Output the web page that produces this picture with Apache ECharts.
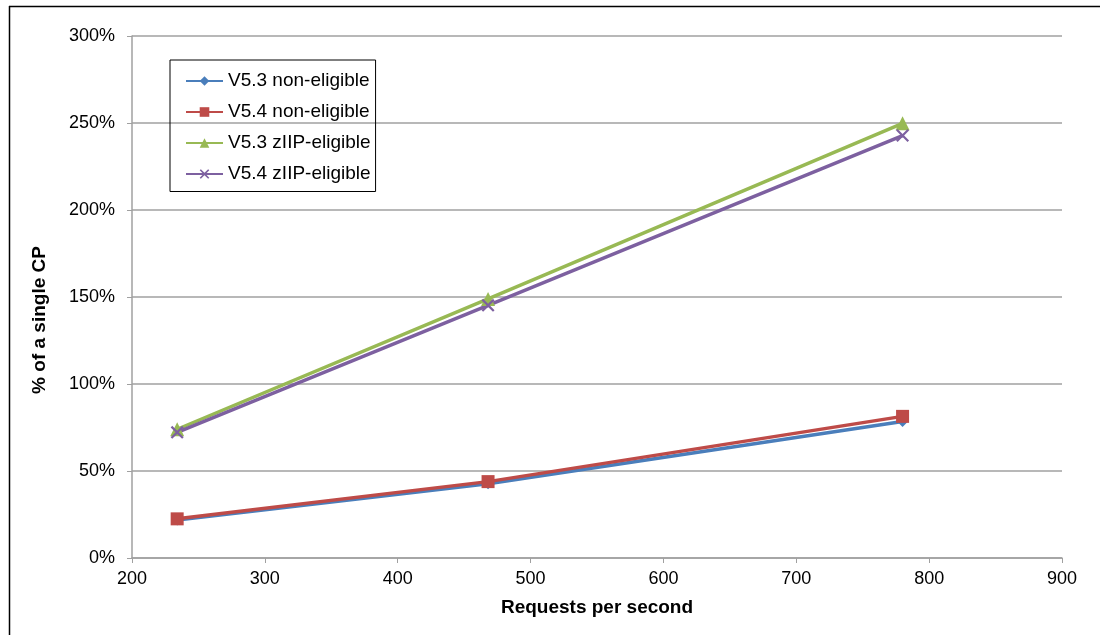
<!DOCTYPE html>
<html>
<head>
<meta charset="utf-8">
<script src="https://cdn.jsdelivr.net/npm/echarts@6/dist/echarts.min.js"></script>
<style>
html,body{margin:0;padding:0;background:#fff;}
#chart{width:1100px;height:635px;}
</style>
</head>
<body>
<div id="chart"></div>
<script>
var requests = [234, 468, 780];
var v53Non = [21.9, 42.7, 78.5];
var v54Non = [22.5, 43.9, 81.4];
var v53Ziip = [74.0, 148.9, 249.8];
var v54Ziip = [72.2, 145.2, 242.8];
var seriesNames = ['V5.3 non-eligible', 'V5.4 non-eligible', 'V5.3 zIIP-eligible', 'V5.4 zIIP-eligible'];
var xTitle = 'Requests per second';
var yTitle = '% of a single CP';

function pairs(vals){ return requests.map(function(x,i){ return [x, vals[i]]; }); }

var xShape = 'path://M0,1.2L1.2,0L5,3.8L8.8,0L10,1.2L6.2,5L10,8.8L8.8,10L5,6.2L1.2,10L0,8.8L3.8,5Z';
var font = 'Liberation Sans, Arial, sans-serif';

function mk(name, vals, color, symbol, size){
  return {
    name: name, type: 'line', data: pairs(vals),
    symbol: symbol, symbolSize: size,
    lineStyle: {color: color, width: 3.5},
    itemStyle: {color: color},
    emphasis: {disabled: true}
  };
}

var chart = echarts.init(document.getElementById('chart'), null, {renderer: 'canvas'});
chart.setOption({
  animation: false,
  backgroundColor: '#ffffff',
  grid: {left: 132, top: 36, right: 38, bottom: 77},
  graphic: [
    {type: 'line', shape: {x1: 9, y1: 6.5, x2: 1100, y2: 6.5}, style: {stroke: '#000', lineWidth: 1.5}},
    {type: 'line', shape: {x1: 9.5, y1: 6, x2: 9.5, y2: 635}, style: {stroke: '#000', lineWidth: 1.5}},
    {type: 'text', x: 40, y: 320, rotation: Math.PI / 2,
     style: {text: yTitle, fontFamily: font, fontSize: 19, fontWeight: 'bold', fill: '#000',
             textAlign: 'center', textVerticalAlign: 'middle'}}
  ],
  legend: {
    orient: 'vertical', left: 170, top: 60,
    data: seriesNames,
    borderColor: '#000', borderWidth: 1,
    padding: [11.5, 5, 8, 15],
    itemWidth: 37, itemHeight: 12, itemGap: 12,
    textStyle: {fontFamily: font, fontSize: 19, color: '#000'}
  },
  xAxis: {
    type: 'value', min: 200, max: 900, interval: 100,
    name: xTitle, nameLocation: 'middle', nameGap: 40,
    nameTextStyle: {fontFamily: font, fontSize: 19, fontWeight: 'bold', color: '#000'},
    axisLine: {show: true, lineStyle: {color: '#a0a0a0', width: 1.5}},
    axisTick: {show: true, length: 5, lineStyle: {color: '#a0a0a0'}},
    axisLabel: {fontFamily: font, fontSize: 18, color: '#000', margin: 12},
    splitLine: {show: false}
  },
  yAxis: {
    type: 'value', min: 0, max: 300, interval: 50,
    axisLine: {show: true, lineStyle: {color: '#a0a0a0', width: 1.5}},
    axisTick: {show: true, length: 5, lineStyle: {color: '#a0a0a0'}},
    axisLabel: {fontFamily: font, fontSize: 18, color: '#000', margin: 17, formatter: '{value}%'},
    splitLine: {show: true, lineStyle: {color: '#a0a0a0', width: 1.5}}
  },
  series: [
    mk(seriesNames[0], v53Non, '#4a7ebb', 'diamond', 11),
    mk(seriesNames[1], v54Non, '#be4b48', 'rect', 13),
    mk(seriesNames[2], v53Ziip, '#98b954', 'triangle', 14),
    mk(seriesNames[3], v54Ziip, '#7d60a0', xShape, 13)
  ]
});
</script>
</body>
</html>
